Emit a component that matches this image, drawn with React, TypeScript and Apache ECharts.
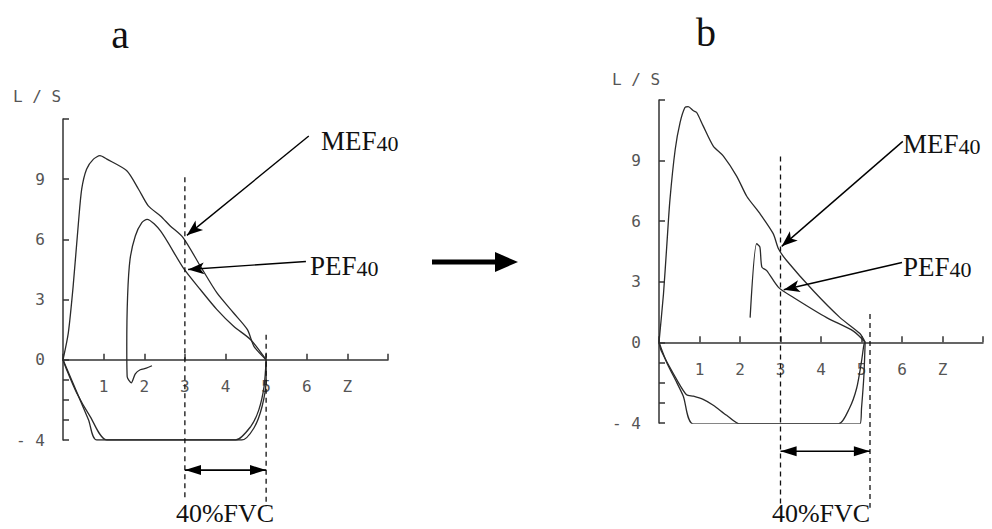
import React, { useEffect, useRef } from 'react';
import * as echarts from 'echarts';

// ---------- data ----------
const panelTitles = ['a', 'b'];
const xTickValues = [1, 2, 3, 4, 5, 6, 7];
const xTickLabels = ['1', '2', '3', '4', '5', '6', 'Z'];
const yTickValues = [-4, -3, -2, -1, 0, 3, 6, 9, 12];
const yLabelValues = [-4, 0, 3, 6, 9];
const yMin = -4;
const yMax = 12;

// Panel a (volume L, flow L/s)
const aOuterExp = [
  [0, 0], [0.13, 1.33], [0.25, 3.67], [0.38, 6.83], [0.46, 8.5], [0.58, 9.5], [0.75, 10.0],
  [0.91, 10.17], [1.08, 10.0], [1.57, 9.42], [1.86, 8.5], [2.1, 7.67], [2.4, 7.17],
  [2.64, 6.67], [2.96, 6.08], [3.38, 4.67], [3.79, 3.33], [4.2, 2.33], [4.54, 1.5],
  [4.7, 0.67], [5.0, 0],
];
const aInnerExp = [
  [2.19, -0.3], [2.05, -0.42], [1.9, -0.5], [1.78, -0.7], [1.68, -1.15], [1.58, -0.85],
  [1.57, 0.67], [1.59, 3.17], [1.65, 5.0], [1.78, 6.17], [1.94, 6.83], [2.07, 7.0],
  [2.4, 6.42], [2.96, 4.58], [3.38, 3.5], [3.79, 2.5], [4.2, 1.67], [4.62, 1.0], [5.0, 0],
];
const aInsp1 = [
  [0, 0], [0.21, -1.0], [0.42, -2.0], [0.63, -3.0], [0.83, -4], [4.25, -4], [4.62, -3.33],
  [4.82, -2.5], [4.95, -1.33], [5.0, 0],
];
const aInsp2 = [
  [0, 0], [0.09, -0.5], [0.34, -1.67], [0.67, -2.83], [1.08, -4], [4.4, -4], [4.7, -3.4],
  [4.9, -2.33], [5.0, -1.0], [5.0, 0],
];
const aDash40 = [[3, 9.1], [3, -7.0]];
const aDashEnd = [[5, 1.25], [5, -7.3]];
const aFvcArrow = [[3, -5.5], [5, -5.5]];
const aMefArrow = [[6.05, 11.15], [3.05, 6.2]];
const aPefArrow = [[5.98, 4.9], [3.08, 4.5]];

// Panel b
const bOuterExp = [
  [0, 0], [0.11, 2.38], [0.19, 4.72], [0.27, 7.05], [0.4, 9.55], [0.52, 10.88], [0.64, 11.63],
  [0.72, 11.67], [0.85, 11.47], [0.93, 11.38], [1.09, 10.72], [1.34, 9.72], [1.59, 9.22],
  [1.92, 8.22], [2.17, 7.22], [2.49, 6.38], [2.82, 5.38], [2.95, 4.63], [3.15, 4.05],
  [3.81, 2.55], [4.47, 1.22], [4.96, 0.43], [5.09, 0],
];
const bInnerExp = [
  [2.25, 1.22], [2.41, 4.88], [2.49, 4.72], [2.54, 3.72], [2.66, 3.55], [2.95, 2.72],
  [3.32, 2.22], [4.14, 1.22], [4.8, 0.55], [5.09, 0],
];
const bInsp1 = [
  [0, 0], [0.19, -1.0], [0.44, -2.0], [0.6, -2.67], [0.85, -4.05], [4.96, -4.05],
  [5.0, -3.28], [5.06, -1.62], [5.09, 0],
];
const bInsp2 = [
  [0, 0], [0.06, -0.45], [0.48, -2.0], [0.68, -2.6], [0.85, -2.67], [1.09, -2.83],
  [1.34, -3.12], [1.67, -3.62], [2.0, -4.05], [4.43, -4.05], [4.7, -3.28], [4.88, -2.28],
  [5.0, -0.95], [5.06, -0.12], [5.09, 0],
];
const bDash40 = [[3, 9.2], [3, -8.0]];
const bDashEnd = [[5.21, 1.4], [5.21, -8.2]];
const bFvcArrow = [[3, -5.4], [5.21, -5.4]];
const bMefArrow = [[6.02, 9.95], [3.03, 4.75]];
const bPefArrow = [[6.0, 3.95], [3.08, 2.6]];

// ---------- styling helpers ----------
const INK = '#2a2a2a';
const monoFont = 'DejaVu Sans Mono';
const serifFont = 'Liberation Serif';

const grids = [
  { left: 63, top: 119, width: 325, height: 321 },
  { left: 659, top: 100, width: 324, height: 323 },
];

function curve(data: number[][], gi: number) {
  return {
    type: 'line',
    xAxisIndex: gi,
    yAxisIndex: gi,
    data,
    showSymbol: false,
    symbol: 'none',
    smooth: 0.25,
    silent: true,
    lineStyle: { color: INK, width: 1.3 },
  };
}

function arrowPair(pts: number[][]) {
  return [
    { coord: pts[0], symbol: 'none' },
    { coord: pts[1], symbol: 'arrow', symbolSize: [9, 16] },
  ];
}

function dashed(data: number[][], gi: number, marks: any[] | null) {
  const s: any = {
    type: 'line',
    xAxisIndex: gi,
    yAxisIndex: gi,
    data,
    showSymbol: false,
    symbol: 'none',
    clip: false,
    silent: true,
    lineStyle: { color: '#111', width: 1.3, type: [5, 4] },
  };
  if (marks) {
    s.markLine = {
      silent: true,
      animation: false,
      label: { show: false },
      lineStyle: { color: '#000', width: 1.4, type: 'solid' },
      emphasis: { disabled: true },
      data: marks,
    };
  }
  return s;
}

// double-headed arrow drawn as a line series whose end symbols are triangles
function doubleArrow(pts: number[][], gi: number) {
  const headLen = 0.2; // in volume units, so the tip lands on the end point
  const [p0, p1] = pts;
  return {
    type: 'line',
    xAxisIndex: gi,
    yAxisIndex: gi,
    clip: false,
    silent: true,
    showSymbol: true,
    showAllSymbol: true,
    symbol: 'none',
    lineStyle: { color: '#000', width: 1.6 },
    data: [
      { value: p0, symbol: 'none' },
      { value: [p0[0] + headLen, p0[1]], symbol: 'triangle', symbolSize: [10, 16], symbolRotate: 90 },
      { value: [p1[0] - headLen, p1[1]], symbol: 'triangle', symbolSize: [10, 16], symbolRotate: -90 },
      { value: p1, symbol: 'none' },
    ],
    itemStyle: { color: '#000' },
  };
}

function annText(x: number, y: number, name: string) {
  return {
    type: 'text',
    x,
    y,
    style: {
      text: `{m|${name}}{n|40}`,
      rich: {
        m: { fontSize: 27, fontFamily: serifFont, fill: '#111', verticalAlign: 'bottom' },
        n: { fontSize: 22, fontFamily: serifFont, fill: '#111', verticalAlign: 'bottom' },
      },
      textVerticalAlign: 'middle',
      verticalAlign: 'middle',
    },
  };
}

function plainText(x: number, y: number, text: string, size: number, family: string, fill: string) {
  return {
    type: 'text',
    x,
    y,
    style: {
      text,
      fontSize: size,
      fontFamily: family,
      fill,
      textAlign: 'center',
      align: 'center',
      textVerticalAlign: 'middle',
      verticalAlign: 'middle',
    },
  };
}

export default function App() {
  const ref = useRef<HTMLDivElement>(null);

  useEffect(() => {
    if (!ref.current) return;
    const chart = echarts.init(ref.current, undefined, { renderer: 'svg' });

    const xAxes = grids.map((g, gi) => ({
      type: 'value',
      gridIndex: gi,
      position: 'bottom',
      min: 0,
      max: 8,
      interval: 1,
      // lift the axis from the bottom of the grid up to flow = 0
      offset: -(g.height * (0 - yMin)) / (yMax - yMin),
      axisLine: { onZero: false, lineStyle: { color: '#333', width: 1.5 } },
      axisTick: { inside: true, length: 6, lineStyle: { color: '#333', width: 1.5 } },
      splitLine: { show: false },
      axisLabel: {
        customValues: xTickValues,
        margin: 19,
        fontSize: 16,
        fontFamily: monoFont,
        color: '#555',
        formatter: (v: number) => xTickLabels[xTickValues.indexOf(v)] ?? '',
      },
    }));

    const yAxes = grids.map((_, gi) => ({
      type: 'value',
      gridIndex: gi,
      min: yMin,
      max: yMax,
      axisLine: { show: true, onZero: false, lineStyle: { color: '#333', width: 1.5 } },
      axisTick: {
        show: true,
        inside: true,
        length: 6,
        customValues: yTickValues,
        lineStyle: { color: '#333', width: 1.5 },
      },
      splitLine: { show: false },
      axisLabel: {
        customValues: yLabelValues,
        margin: 18,
        fontSize: 16,
        fontFamily: monoFont,
        color: '#555',
        formatter: (v: number) => (v < 0 ? `- ${Math.abs(v)}` : String(v)),
      },
    }));

    const series: any[] = [
      curve(aOuterExp, 0),
      curve(aInnerExp, 0),
      curve(aInsp1, 0),
      curve(aInsp2, 0),
      dashed(aDash40, 0, [arrowPair(aMefArrow), arrowPair(aPefArrow)]),
      dashed(aDashEnd, 0, null),
      doubleArrow(aFvcArrow, 0),
      curve(bOuterExp, 1),
      curve(bInnerExp, 1),
      curve(bInsp1, 1),
      curve(bInsp2, 1),
      dashed(bDash40, 1, [arrowPair(bMefArrow), arrowPair(bPefArrow)]),
      dashed(bDashEnd, 1, null),
      doubleArrow(bFvcArrow, 1),
    ];

    chart.setOption({
      animation: false,
      backgroundColor: '#ffffff',
      grid: grids,
      xAxis: xAxes,
      yAxis: yAxes,
      series,
      graphic: [
        plainText(120, 34, panelTitles[0], 40, serifFont, '#111'),
        plainText(706, 32, panelTitles[1], 40, serifFont, '#111'),
        plainText(37, 96, 'L / S', 16, monoFont, '#555'),
        plainText(636, 79, 'L / S', 16, monoFont, '#555'),
        annText(321, 141, 'MEF'),
        annText(310, 266, 'PEF'),
        annText(903, 144, 'MEF'),
        annText(903, 267, 'PEF'),
        plainText(225, 513, '40%FVC', 26, serifFont, '#111'),
        plainText(821, 513, '40%FVC', 26, serifFont, '#111'),
        {
          type: 'line',
          shape: { x1: 432, y1: 262, x2: 500, y2: 262 },
          style: { stroke: '#000', lineWidth: 5 },
        },
        {
          type: 'polygon',
          shape: { points: [[495, 252], [518, 262], [495, 272]] },
          style: { fill: '#000' },
        },
      ],
    });

    return () => chart.dispose();
  }, []);

  return (
    <div
      ref={ref}
      style={{ position: 'fixed', left: 0, top: 0, width: 992, height: 529, background: '#fff' }}
    />
  );
}
